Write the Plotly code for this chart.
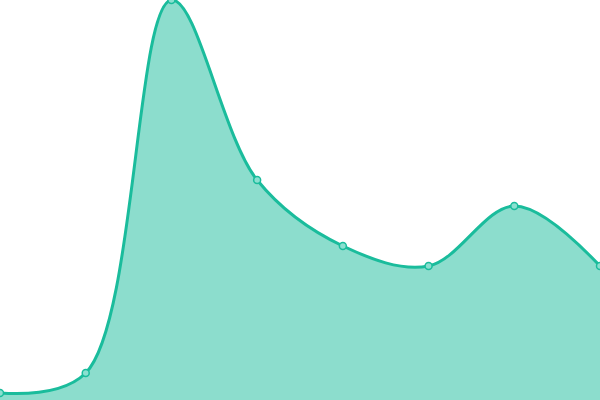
import plotly.graph_objects as go

# values (pixel height above the bottom edge)
categories = ["A", "B", "C", "D", "E", "F", "G", "H"]
values = [7, 27, 400, 220, 154, 134, 194, 134]

line_color = "#1abc9c"
fill_color = "rgba(26,188,156,0.5)"

fig = go.Figure()
fig.add_trace(go.Scatter(
  x=list(range(len(categories))),
  y=values,
  mode="lines+markers",
  line=dict(color=line_color, width=3, shape="spline", smoothing=1),
  marker=dict(size=7, color="#8ae0d0", line=dict(color=line_color, width=1.5)),
  fill="tozeroy",
  fillcolor=fill_color,
  cliponaxis=True,
  hoverinfo="y",
))

fig.update_layout(
  width=600, height=400,
  margin=dict(l=0, r=0, t=0, b=0),
  paper_bgcolor="white", plot_bgcolor="white",
  showlegend=False,
  xaxis=dict(range=[0, len(categories) - 1], visible=False, fixedrange=True),
  yaxis=dict(range=[0, 400], visible=False, fixedrange=True),
)

# drop the browser's default page margin so the chart sits flush in the window
fig.write_html(
  "out.html",
  config={"displayModeBar": False},
  post_script="document.body.style.margin='0';document.body.style.overflow='hidden';",
)
